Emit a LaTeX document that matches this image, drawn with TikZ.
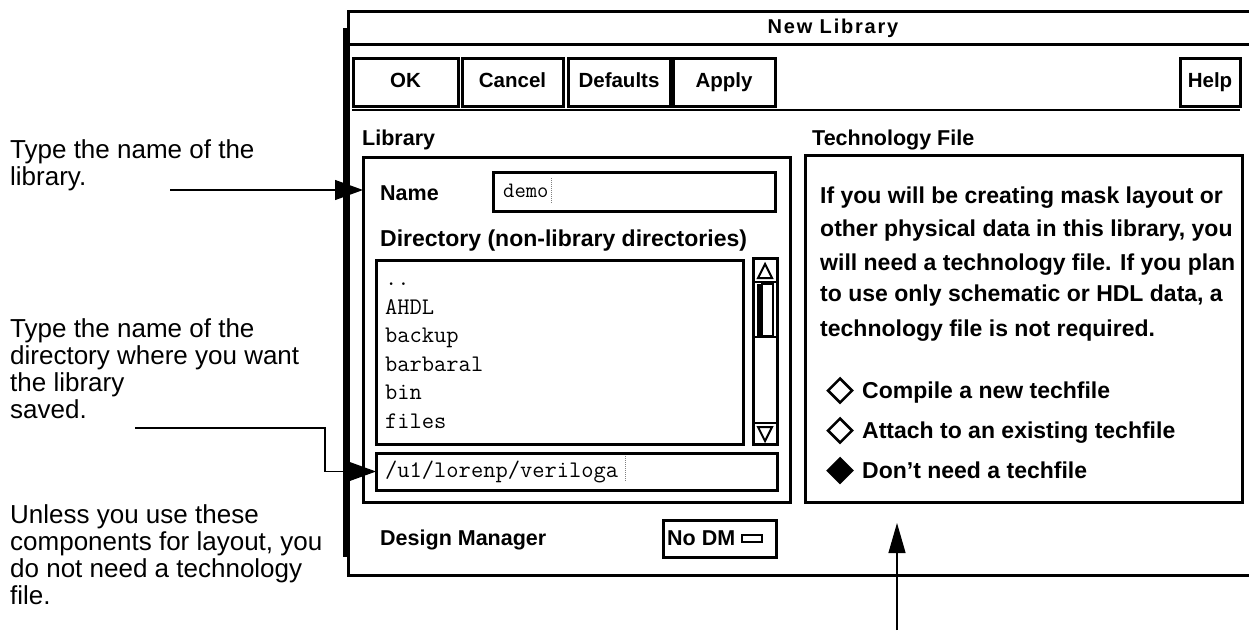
\documentclass[tikz,border=0pt]{standalone}
\usepackage{fontspec}
\setmainfont{Liberation Sans}
\newfontfamily\titlefont[LetterSpace=9]{Liberation Sans}
\usetikzlibrary{arrows.meta}
\begin{document}
\begin{tikzpicture}[x=1pt,y=-1pt,
  ann/.style={anchor=base west, inner sep=0pt, font=\fontsize{26}{30}\selectfont},
  frame/.style={draw, line width=3pt, inner sep=0pt, outer sep=0pt},
  btn/.style={frame, minimum height=48pt, font=\bfseries\fontsize{20.5}{24}\selectfont, text height=15pt, text depth=4pt},
  lbl/.style={anchor=base west, inner sep=0pt, font=\bfseries\fontsize{21.5}{26}\selectfont},
  body/.style={anchor=base west, inner sep=0pt, font=\bfseries\fontsize{23}{26}\selectfont},
  mono/.style={anchor=base west, inner sep=0pt, font=\ttfamily\fontsize{23.8}{26}\selectfont},
  arr/.style={line width=1.2pt, -{Triangle[length=28pt,width=20pt]}},
  cursor/.style={gray, line width=1pt, dash pattern=on 1pt off 1pt},
]
\useasboundingbox (0,0) rectangle (1249,630);

% ---- dialog frame ----
\fill (343,28) rectangle (347.5,557);
\draw[line width=3pt] (1249,11) -- (348.5,11) -- (348.5,575) -- (1249,575);
\draw[line width=3pt] (348.5,44) -- (1249,44);
\node[font=\titlefont\bfseries\fontsize{20}{22}\selectfont] (title) at (833,28) {New Library};

% ---- buttons ----
\node[btn, minimum width=105pt] (ok) at (405.5,82) {OK};
\node[btn, minimum width=101pt] (cancel) at (512.5,82) {Cancel};
\node[btn, minimum width=102pt] (defaults) at (619,82) {Defaults};
\node[btn, minimum width=102pt] (apply) at (724,82) {Apply};
\node[btn, minimum width=60pt] (help) at (1210,82) {Help};
\draw[line width=2.5pt] (352,110) -- (1240,110);

% ---- library section ----
\node[lbl] (liblbl) at (362,145) {Library};
\node[frame, minimum width=427pt, minimum height=345pt] (lib) at (576.5,329.5) {};
\node[lbl] (namelbl) at (380,200) {Name};
\node[frame, minimum width=282pt, minimum height=39pt] (namef) at (634,191.5) {};
\node[mono, font=\ttfamily\fontsize{22}{26}\selectfont] (demo) at (503,197) {demo};
\draw[cursor] (551,178) -- (551,203);
\node[body] (dirlbl) at (380,246) {Directory (non-library directories)};
\node[frame, minimum width=367pt, minimum height=184pt] (list) at (559.5,352) {};
\node[mono] (i0) at (385,285.5) {..};
\node[mono] (i1) at (385,314) {AHDL};
\node[mono] (i2) at (385,342.5) {backup};
\node[mono] (i3) at (385,371) {barbaral};
\node[mono] (i4) at (385,399.5) {bin};
\node[mono] (i5) at (385,428) {files};
% scrollbar
\node[frame, minimum width=24pt, minimum height=186pt] (scroll) at (765,351) {};
\draw[line width=2pt] (765,264) -- (772,278) -- (758,278) -- cycle;
\draw[line width=2.5pt] (753,282) -- (777,282);
\fill (756.5,284) rectangle (762,336);
\draw[line width=1.5pt] (762,284) rectangle (773,336);
\draw[line width=2pt] (753,337) -- (777,337);
\draw[line width=2.5pt] (753,423) -- (777,423);
\draw[line width=2pt] (758,427) -- (772,427) -- (765,441) -- cycle;
% path field
\node[frame, minimum width=401pt, minimum height=37pt] (pathf) at (576.5,471.5) {};
\node[mono] (pathtxt) at (385,477) {/u1/lorenp/veriloga};
\draw[cursor] (625,456) -- (625,482);
% design manager
\node[lbl] (dmlbl) at (380,545) {Design Manager};
\node[frame, minimum width=113pt, minimum height=37pt] (nodm) at (719.5,538.5) {};
\node[lbl] (nodmtxt) at (667,545) {No DM};
\draw[line width=2.5pt] (742,535) rectangle (762,542);

% ---- technology file section ----
\node[lbl] (techlbl) at (812,145) {Technology File};
\node[frame, minimum width=437pt, minimum height=347pt] (tech) at (1023.5,328.5) {};
\node[body] (t1) at (820,203) {If you will be creating mask layout or};
\node[body] (t2) at (820,236) {other physical data in this library, you};
\node[body] (t3) at (820,270) {will need a technology file. If you plan};
\node[body] (t4) at (820,301) {to use only schematic or HDL data, a};
\node[body] (t5) at (820,336) {technology file is not required.};
\draw[line width=2.5pt] (840,378.5) -- (852,390.5) -- (840,402.5) -- (828,390.5) -- cycle;
\node[body] (r1) at (862,398) {Compile a new techfile};
\draw[line width=2.5pt] (840,418.5) -- (852,430.5) -- (840,442.5) -- (828,430.5) -- cycle;
\node[body] (r2) at (862,438) {Attach to an existing techfile};
\filldraw[line width=2.5pt] (840,458.5) -- (852,470.5) -- (840,482.5) -- (828,470.5) -- cycle;
\node[body] (r3) at (862,478) {Don’t need a techfile};

% ---- annotations ----
\node[ann] (n1a) at (10,158) {Type the name of the};
\node[ann] (n1b) at (10,185) {library.};
\node[ann] (n2a) at (10,337) {Type the name of the};
\node[ann] (n2b) at (10,364) {directory where you want};
\node[ann] (n2c) at (10,391) {the library};
\node[ann] (n2d) at (10,418) {saved.};
\node[ann] (n3a) at (10,523) {Unless you use these};
\node[ann] (n3b) at (10,550) {components for layout, you};
\node[ann] (n3c) at (10,577) {do not need a technology};
\node[ann] (n3d) at (10,604) {file.};

% ---- connectors ----
\coordinate (a1s) at (170,190);
\draw[arr] (a1s) -- (a1s -| lib.west);
\coordinate (a2s) at (135,428);
\coordinate (a2k) at (325,428);
\draw[arr] (a2s) -- (a2k) |- (pathf.west);
\coordinate (a3s) at (897,630);
\coordinate (a3e) at (897,523);
\draw[line width=1.2pt, -{Triangle[length=30pt,width=17pt]}] (a3s) -- (a3e);
\end{tikzpicture}
\end{document}
